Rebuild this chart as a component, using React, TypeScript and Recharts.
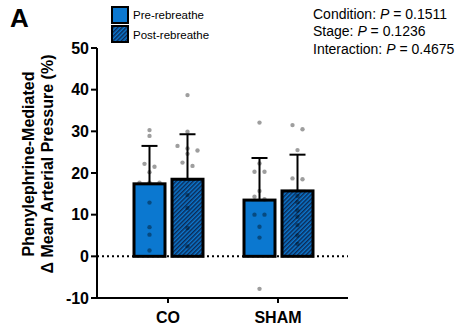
import React from 'react';
import { ComposedChart, Bar, XAxis, YAxis, ErrorBar, ReferenceLine } from 'recharts';

// Group means and SDs of the pressor response
const groups = ['CO', 'SHAM'];
const preMeans = [17.4, 13.5];
const postMeans = [18.5, 15.7];
const preSD = [9.1, 10.1];
const postSD = [10.8, 8.7];

// Individual responses
const coPre = [30.3, 28.9, 22.2, 21.5, 20.2, 17.7, 17.7, 17.7, 12.9, 7.0, 5.2, 1.4];
const coPost = [38.7, 29.9, 26.5, 25.9, 25.4, 24.6, 22.5, 21.7, 14.7, 11.6, 6.8, 2.4];
const shamPre = [32.1, 22.3, 20.3, 20.3, 15.7, 14.3, 13.7, 10.0, 10.0, 7.1, 4.5, -7.8];
const shamPost = [31.5, 30.5, 25.5, 18.7, 18.5, 14.5, 13.0, 11.0, 9.5, 7.5, 5.0, 3.0];

const yTicks = [-10, 0, 10, 20, 30, 40, 50];
const seriesNames = ['Pre-rebreathe', 'Post-rebreathe'];
const statLines = [
  ['Condition: ', '0.1511'],
  ['Stage: ', '0.1236'],
  ['Interaction: ', '0.4675'],
];

const preDots = [coPre, shamPre];
const postDots = [coPost, shamPost];

const data = groups.map((g, i) => ({
  group: g,
  pre: preMeans[i],
  post: postMeans[i],
  preErr: [0, preSD[i]],
  postErr: [0, postSD[i]],
  preDots: preDots[i],
  postDots: postDots[i],
}));

const BLUE = '#0b78d0';
const NAVY = '#0c2a55';
const FONT = '"Liberation Sans", Arial, Helvetica, sans-serif';

// Column-scatter layout: points whose pixel heights nearly coincide share a row
// and are spread symmetrically around the bar centre.
function arrangeRows(values: number[], toPx: (v: number) => number) {
  const sorted = [...values].sort((a, b) => b - a);
  const out: { v: number; dx: number }[] = [];
  let row: number[] = [];
  const flush = () => {
    const n = row.length;
    row.forEach((v, i) => out.push({ v, dx: (i - (n - 1) / 2) * 10 }));
    row = [];
  };
  for (const v of sorted) {
    if (row.length && Math.abs(toPx(v) - toPx(row[0])) > 5) flush();
    row.push(v);
  }
  flush();
  return out;
}

const makeShape = (fill: string, valueKey: 'pre' | 'post', dotsKey: 'preDots' | 'postDots') =>
  (props: any) => {
    const { x, y, width, height, payload } = props;
    const v = payload[valueKey];
    const unit = height / v;
    const zeroY = y + height;
    const toPx = (d: number) => zeroY - d * unit;
    const cx = x + width / 2;
    const placed = arrangeRows(payload[dotsKey], toPx);
    return (
      <g>
        <rect x={x} y={y} width={width} height={height} fill={fill} stroke="#000" strokeWidth={3} />
        {placed.map((p, k) => (
          <circle key={k} cx={cx + p.dx} cy={toPx(p.v)} r={2.2} fill="#000" fillOpacity={0.38} />
        ))}
      </g>
    );
  };

const tickStyle = { fill: '#000', fontSize: 16, fontWeight: 700, fontFamily: FONT };
const lineStyle = { stroke: '#000', strokeWidth: 2 };

export default function App() {
  return (
    <div style={{ position: 'absolute', left: 0, top: 0, width: 467, height: 331, background: '#fff', fontFamily: FONT }}>
      <svg width={0} height={0} style={{ position: 'absolute' }}>
        <defs>
          <pattern id="postHatch" patternUnits="userSpaceOnUse" width={3} height={3} patternTransform="rotate(45)">
            <rect width={3} height={3} fill={BLUE} />
            <rect width={1.5} height={3} fill={NAVY} />
          </pattern>
        </defs>
      </svg>
      <ComposedChart
        width={467}
        height={331}
        data={data}
        margin={{ top: 48, right: 119, bottom: 0, left: 0 }}
        barGap={7}
      >
        <XAxis
          dataKey="group"
          height={33}
          padding={{ left: 16, right: 15 }}
          axisLine={lineStyle}
          tickLine={lineStyle}
          tickSize={5}
          tickMargin={9}
          tick={tickStyle}
        />
        <YAxis
          width={97}
          domain={[-10, 50]}
          ticks={yTicks}
          interval={0}
          axisLine={lineStyle}
          tickLine={lineStyle}
          tickSize={6}
          tickMargin={2}
          tick={tickStyle}
        />
        <ReferenceLine y={0} stroke="#000" strokeWidth={2} strokeDasharray="2 3" />
        <Bar dataKey="pre" barSize={31} isAnimationActive={false} shape={makeShape(BLUE, 'pre', 'preDots')}>
          <ErrorBar dataKey="preErr" direction="y" width={8} stroke="#000" strokeWidth={2} />
        </Bar>
        <Bar dataKey="post" barSize={31} isAnimationActive={false} shape={makeShape('url(#postHatch)', 'post', 'postDots')}>
          <ErrorBar dataKey="postErr" direction="y" width={8} stroke="#000" strokeWidth={2} />
        </Bar>
      </ComposedChart>
      <svg width={467} height={331} style={{ position: 'absolute', left: 0, top: 0, pointerEvents: 'none' }} fontFamily={FONT}>
        <text x={10} y={27} fontSize={26} fontWeight={700} fill="#000">A</text>
        <rect x={112} y={7} width={16} height={16} fill={BLUE} stroke="#000" strokeWidth={2} />
        <rect x={112} y={26} width={16} height={16} fill="url(#postHatch)" stroke="#000" strokeWidth={2} />
        <text x={133} y={19} fontSize={11.5} fill="#000">{seriesNames[0]}</text>
        <text x={133} y={39} fontSize={11.5} fill="#000">{seriesNames[1]}</text>
        {statLines.map((s, i) => (
          <text key={i} x={313} y={18.5 + i * 17.8} fontSize={14} fill="#000">
            {s[0]}
            <tspan fontStyle="italic">P</tspan>
            {' = ' + s[1]}
          </text>
        ))}
        <g transform="translate(34,164) rotate(-90)">
          <text x={0} y={0} textAnchor="middle" fontSize={16} fontWeight={700} fill="#000">Phenylephrine-Mediated</text>
          <text x={0} y={19} textAnchor="middle" fontSize={16} fontWeight={700} fill="#000">Δ Mean Arterial Pressure (%)</text>
        </g>
      </svg>
    </div>
  );
}
